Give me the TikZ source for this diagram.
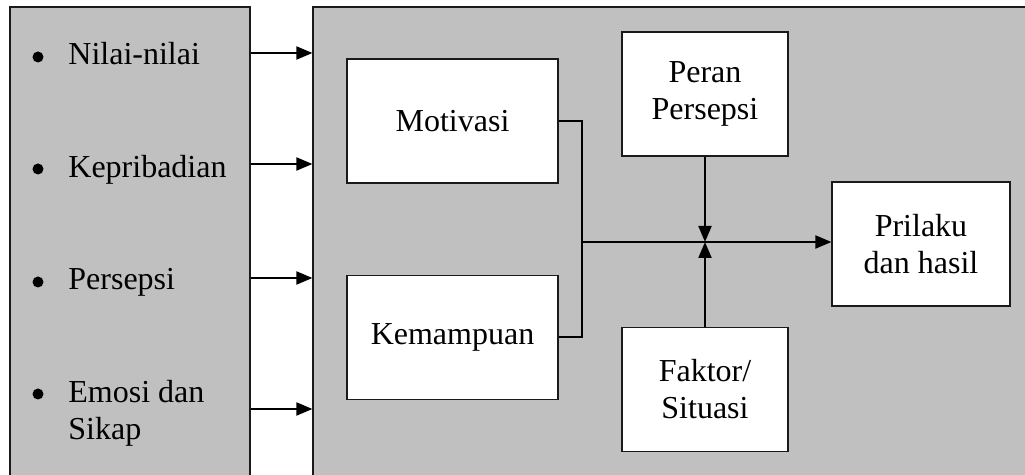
\documentclass[tikz,border=0pt]{standalone}
\usepackage{fontspec}
\setmainfont{Liberation Serif}
\usetikzlibrary{positioning,arrows.meta}
\definecolor{panel}{HTML}{C0C0C0}
\definecolor{edge}{HTML}{1A1A1A}

\begin{document}
\begin{tikzpicture}[x=0.5pt, y=-0.5pt,
  font=\fontsize{16}{18.5}\selectfont,
  panelbox/.style={draw=edge, line width=0.6pt, fill=panel, inner sep=0pt},
  box/.style={draw=edge, line width=0.6pt, fill=white, align=center, inner sep=0pt, minimum height=62pt},
  item/.style={anchor=base west, inner sep=0pt, align=left},
  dot/.style={circle, fill=black, inner sep=0pt, minimum size=5.5pt},
  arr/.style={-{Triangle[length=8pt, width=6.5pt]}, line width=1pt},
  link/.style={line width=1pt}
]
\useasboundingbox (0,0) rectangle (1025,475);
\clip (0,0) rectangle (1025,475);

\node[panelbox, minimum width=120pt, minimum height=239pt] (factors) at (130,246) {};
\node[panelbox, minimum width=361pt, minimum height=239pt] (process) at (674,246) {};

\node[item] (nilai) at (68,65) {Nilai-nilai};
\node[item] (pribadi) at (68,178) {Kepribadian};
\node[item] (persepsi) at (68,290) {Persepsi};
\node[item] (emosi) at (68,440) {Emosi dan\\Sikap};
\foreach \y/\n in {57/b1, 169/b2, 282/b3, 394/b4}
  \node[dot] (\n) at (38,\y) {};

\foreach \y in {53, 164, 278, 409}
  \draw[arr] (factors.east |- 0,\y) -- (process.west |- 0,\y);

\node[box, minimum width=105.5pt] (motivasi) at (452.5,121) {Motivasi};
\node[box, minimum width=105.5pt] (mampu) at (452.5,337.5) {Kemampuan};
\node[box, minimum width=83pt] (peran) at (705,94) {Peran\\Persepsi};
\node[box, minimum width=83pt] (faktor) at (705,389.5) {Faktor/\\Situasi};
\node[box, minimum width=89pt] (prilaku) at (921,244) {Prilaku\\dan hasil};

\coordinate (junc) at (582,242);
\draw[link] (motivasi.east) -| (junc) |- (mampu.east);
\draw[arr] (junc) -- (junc -| prilaku.west);
\draw[arr] (peran) -- (peran |- junc);
\draw[arr] (faktor) -- (faktor |- junc);
\end{tikzpicture}
\end{document}
